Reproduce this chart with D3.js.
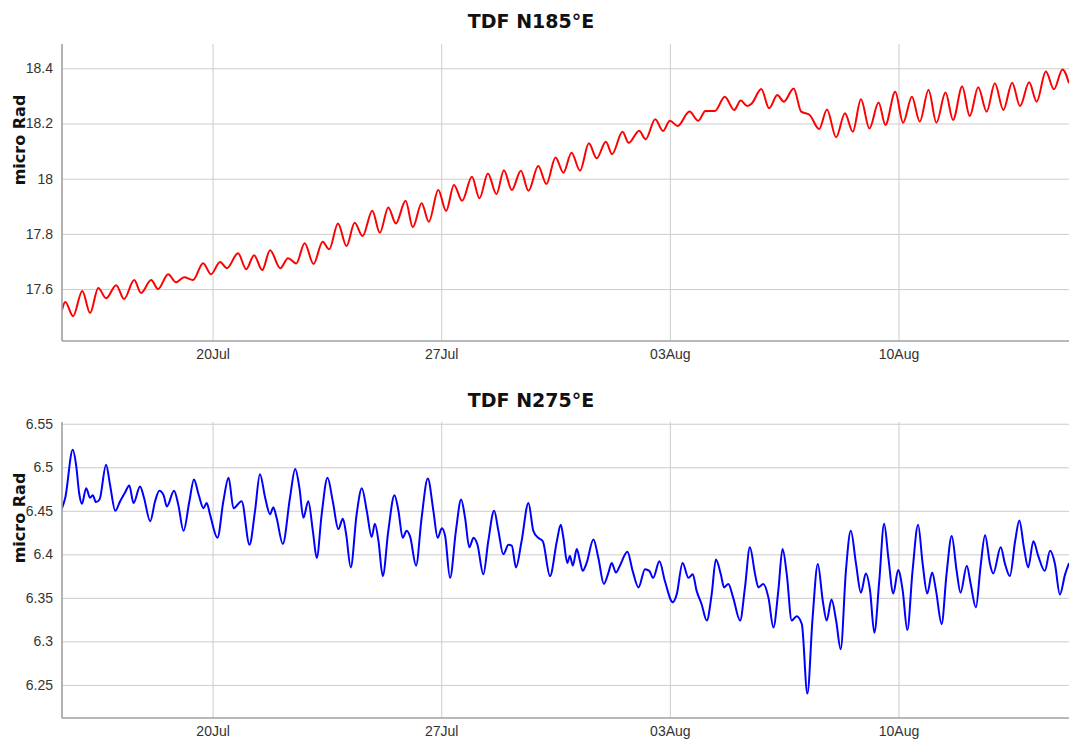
<!DOCTYPE html>
<html>
<head>
<meta charset="utf-8">
<script src="https://cdn.jsdelivr.net/npm/d3@7"></script>
<style>
  body { margin: 0; background: #fff; }
  svg { display: block; font-family: "DejaVu Sans", Verdana, sans-serif; }
  .grid line { stroke: #cccccc; stroke-width: 1; }
  .grid .domain { display: none; }
  .tickAxis .domain { display: none; }
  .tickAxis text { fill: #333; font-size: 14px; }
  .frame { stroke: #a0a0a0; stroke-width: 1.6; }
  .title { font-weight: bold; font-size: 19px; fill: #111; }
  .ylabel { font-weight: bold; font-size: 16px; fill: #111; }
</style>
</head>
<body>
<script>

// ----- data (days counted from 15 Jul, values in micro Rad) -----

const startDate = new Date(2015, 6, 15);
const endDay = 31.22;
const firstDay = 0.39;

const xTickDays = [5, 12, 19, 26];   // 20Jul, 27Jul, 03Aug, 10Aug

const topTitle = "TDF N185°E";
const topYTicks = [17.6, 17.8, 18, 18.2, 18.4];
const topDays = [0.39,0.49,0.73,1.01,1.25,1.50,1.74,2.05,2.29,2.60,
  2.81,3.12,3.33,3.64,3.88,4.13,4.40,4.71,4.95,5.23,
  5.44,5.78,6.03,6.27,6.52,6.76,7.07,7.31,7.56,7.82,
  8.09,8.37,8.57,8.84,9.10,9.35,9.59,9.89,10.12,10.38,
  10.61,10.91,11.13,11.40,11.62,11.91,12.15,12.39,12.64,12.94,
  13.17,13.43,13.69,13.92,14.16,14.44,14.67,14.97,15.22,15.50,
  15.74,15.99,16.25,16.52,16.76,17.04,17.23,17.55,17.74,18.06,
  18.26,18.55,18.79,19.00,19.24,19.60,19.87,20.09,20.38,20.68,
  20.97,21.17,21.37,21.51,21.80,22.04,22.29,22.49,22.79,23.02,
  23.28,23.57,23.81,24.09,24.36,24.60,24.85,25.11,25.39,25.60,
  25.90,26.14,26.41,26.65,26.92,27.16,27.44,27.67,27.95,28.18,
  28.44,28.70,28.95,29.21,29.48,29.72,30.00,30.23,30.51,30.76,
  31.02,31.22];
const topValues = [17.524,17.553,17.502,17.593,17.513,17.604,17.567,17.614,17.564,17.633,
  17.586,17.633,17.600,17.654,17.625,17.643,17.633,17.694,17.654,17.698,
  17.676,17.730,17.672,17.723,17.669,17.741,17.676,17.712,17.693,17.766,
  17.691,17.772,17.744,17.838,17.756,17.840,17.792,17.884,17.804,17.896,
  17.838,17.920,17.824,17.911,17.844,17.959,17.883,17.977,17.920,18.007,
  17.929,18.019,17.944,18.031,17.959,18.029,17.956,18.046,17.981,18.077,
  18.022,18.094,18.029,18.128,18.074,18.134,18.089,18.170,18.130,18.174,
  18.143,18.215,18.173,18.210,18.191,18.243,18.210,18.245,18.245,18.297,
  18.249,18.283,18.263,18.273,18.325,18.255,18.303,18.279,18.327,18.243,
  18.231,18.180,18.251,18.150,18.237,18.170,18.288,18.182,18.276,18.195,
  18.315,18.203,18.297,18.207,18.321,18.203,18.312,18.213,18.334,18.227,
  18.331,18.243,18.346,18.249,18.348,18.263,18.349,18.279,18.388,18.324,
  18.396,18.346];

const bottomTitle = "TDF N275°E";
const bottomYTicks = [6.25, 6.3, 6.35, 6.4, 6.45, 6.5, 6.55];
const bottomDays = [0.38,0.49,0.72,0.82,0.92,1.00,1.13,1.25,1.33,1.43,
  1.54,1.74,1.86,2.02,2.17,2.32,2.45,2.58,2.78,2.90,
  3.09,3.24,3.37,3.50,3.60,3.82,3.95,4.11,4.29,4.43,
  4.57,4.72,4.82,4.92,5.15,5.33,5.49,5.64,5.89,6.13,
  6.30,6.45,6.61,6.76,6.86,6.96,7.15,7.37,7.53,7.66,
  7.78,7.93,8.07,8.19,8.34,8.52,8.68,8.85,8.99,9.09,
  9.23,9.41,9.57,9.72,9.87,9.97,10.08,10.21,10.38,10.57,
  10.69,10.82,10.94,11.05,11.23,11.40,11.59,11.76,11.89,12.02,
  12.12,12.27,12.45,12.61,12.73,12.86,12.99,13.11,13.29,13.44,
  13.62,13.75,13.90,14.06,14.16,14.29,14.46,14.67,14.82,14.97,
  15.11,15.33,15.54,15.66,15.74,15.86,15.94,16.03,16.15,16.25,
  16.33,16.45,16.66,16.81,16.98,17.12,17.22,17.35,17.47,17.70,
  17.86,18.04,18.24,18.37,18.49,18.68,18.85,19.09,19.21,19.39,
  19.57,19.70,19.82,19.97,20.13,20.28,20.41,20.56,20.66,20.79,
  20.94,21.15,21.30,21.45,21.61,21.71,21.86,22.02,22.17,22.32,
  22.45,22.58,22.73,22.88,23.04,23.21,23.37,23.53,23.68,23.80,
  23.95,24.09,24.23,24.39,24.54,24.70,24.85,25.00,25.13,25.26,
  25.41,25.56,25.69,25.84,25.99,26.13,26.27,26.43,26.60,26.74,
  26.88,27.03,27.15,27.32,27.47,27.63,27.78,27.90,28.09,28.21,
  28.37,28.51,28.65,28.80,28.90,29.13,29.26,29.41,29.57,29.70,
  29.84,29.97,30.13,30.28,30.48,30.64,30.79,30.94,31.10,31.22];
const bottomValues = [6.452,6.465,6.520,6.503,6.469,6.458,6.476,6.465,6.468,6.460,
  6.463,6.503,6.480,6.450,6.461,6.471,6.479,6.459,6.478,6.465,
  6.438,6.461,6.473,6.468,6.455,6.473,6.457,6.427,6.461,6.486,
  6.469,6.453,6.459,6.446,6.419,6.461,6.488,6.453,6.461,6.411,
  6.450,6.492,6.465,6.446,6.454,6.442,6.412,6.465,6.498,6.476,
  6.442,6.461,6.427,6.396,6.446,6.488,6.461,6.429,6.441,6.423,
  6.385,6.446,6.476,6.450,6.420,6.435,6.415,6.375,6.427,6.468,
  6.450,6.419,6.427,6.420,6.387,6.442,6.487,6.450,6.419,6.430,
  6.421,6.373,6.427,6.463,6.442,6.408,6.419,6.411,6.377,6.415,
  6.450,6.427,6.400,6.411,6.410,6.385,6.415,6.459,6.427,6.419,
  6.415,6.375,6.415,6.434,6.419,6.390,6.398,6.387,6.406,6.392,
  6.381,6.390,6.417,6.396,6.366,6.379,6.390,6.379,6.387,6.403,
  6.381,6.362,6.383,6.381,6.373,6.392,6.369,6.345,6.354,6.390,
  6.373,6.377,6.358,6.343,6.324,6.354,6.394,6.377,6.362,6.366,
  6.350,6.324,6.362,6.408,6.377,6.362,6.366,6.350,6.316,6.358,
  6.406,6.377,6.324,6.329,6.320,6.240,6.327,6.389,6.347,6.324,
  6.348,6.324,6.291,6.381,6.427,6.389,6.356,6.378,6.358,6.310,
  6.369,6.435,6.396,6.355,6.382,6.358,6.313,6.381,6.434,6.389,
  6.355,6.379,6.358,6.320,6.377,6.421,6.381,6.356,6.387,6.366,
  6.339,6.385,6.422,6.389,6.378,6.408,6.389,6.375,6.415,6.439,
  6.408,6.385,6.415,6.398,6.381,6.404,6.389,6.354,6.377,6.390];

// ----- layout -----

const width = 1069, height = 742;
const left = 62, right = 1069;

const dayToDate = d => new Date(startDate.getTime() + d * 864e5);

const svg = d3.select("body").append("svg")
    .attr("width", width)
    .attr("height", height);

const x = d3.scaleTime()
    .domain([dayToDate(firstDay), dayToDate(endDay)])
    .range([left, right]);

const panels = [
  { title: topTitle, days: topDays, values: topValues, yTicks: topYTicks,
    yDomain: [17.412, 18.488], top: 44, bottom: 341, titleY: 28, color: "#ff0000", id: "top" },
  { title: bottomTitle, days: bottomDays, values: bottomValues, yTicks: bottomYTicks,
    yDomain: [6.212, 6.552], top: 422, bottom: 718, titleY: 407, color: "#0000ff", id: "bottom" }
];

panels.forEach(drawPanel);

function drawPanel(p){

    const y = d3.scaleLinear().domain(p.yDomain).range([p.bottom, p.top]);
    const g = svg.append("g");

    // gridlines
    g.append("g")
        .attr("class", "grid")
        .attr("transform", "translate(0," + p.bottom + ")")
        .call(d3.axisBottom(x)
            .tickValues(xTickDays.map(dayToDate))
            .tickSize(-(p.bottom - p.top))
            .tickFormat(""));

    g.append("g")
        .attr("class", "grid")
        .attr("transform", "translate(" + left + ",0)")
        .call(d3.axisLeft(y)
            .tickValues(p.yTicks)
            .tickSize(-(right - left))
            .tickFormat(""));

    // tick labels
    g.append("g")
        .attr("class", "tickAxis")
        .attr("transform", "translate(0," + p.bottom + ")")
        .call(d3.axisBottom(x)
            .tickValues(xTickDays.map(dayToDate))
            .tickSize(0)
            .tickPadding(8)
            .tickFormat(d3.timeFormat("%d%b")));

    g.append("g")
        .attr("class", "tickAxis")
        .attr("transform", "translate(" + left + ",0)")
        .call(d3.axisLeft(y)
            .tickValues(p.yTicks)
            .tickSize(0)
            .tickPadding(9)
            .tickFormat(d => String(d)));

    // clip + line
    svg.append("clipPath")
        .attr("id", "clip-" + p.id)
        .append("rect")
        .attr("x", left)
        .attr("y", p.top)
        .attr("width", right - left)
        .attr("height", p.bottom - p.top);

    const pts = p.days.map((d, i) => ({ date: dayToDate(d), v: p.values[i] }));

    const line = d3.line()
        .x(d => x(d.date))
        .y(d => y(d.v))
        .curve(d3.curveMonotoneX);

    g.append("path")
        .datum(pts)
        .attr("clip-path", "url(#clip-" + p.id + ")")
        .attr("fill", "none")
        .attr("stroke", p.color)
        .attr("stroke-width", 2)
        .attr("stroke-linejoin", "round")
        .attr("d", line);

    // left and bottom frame lines
    g.append("line").attr("class", "frame")
        .attr("x1", left).attr("x2", left)
        .attr("y1", p.top).attr("y2", p.bottom);

    g.append("line").attr("class", "frame")
        .attr("x1", left).attr("x2", right)
        .attr("y1", p.bottom).attr("y2", p.bottom);

    // title and axis label
    g.append("text")
        .attr("class", "title")
        .attr("x", 531)
        .attr("y", p.titleY)
        .attr("text-anchor", "middle")
        .text(p.title);

    g.append("text")
        .attr("class", "ylabel")
        .attr("transform", "translate(25," + (p.top + 96) + ") rotate(-90)")
        .attr("text-anchor", "middle")
        .text("micro Rad");
}

</script>
</body>
</html>
